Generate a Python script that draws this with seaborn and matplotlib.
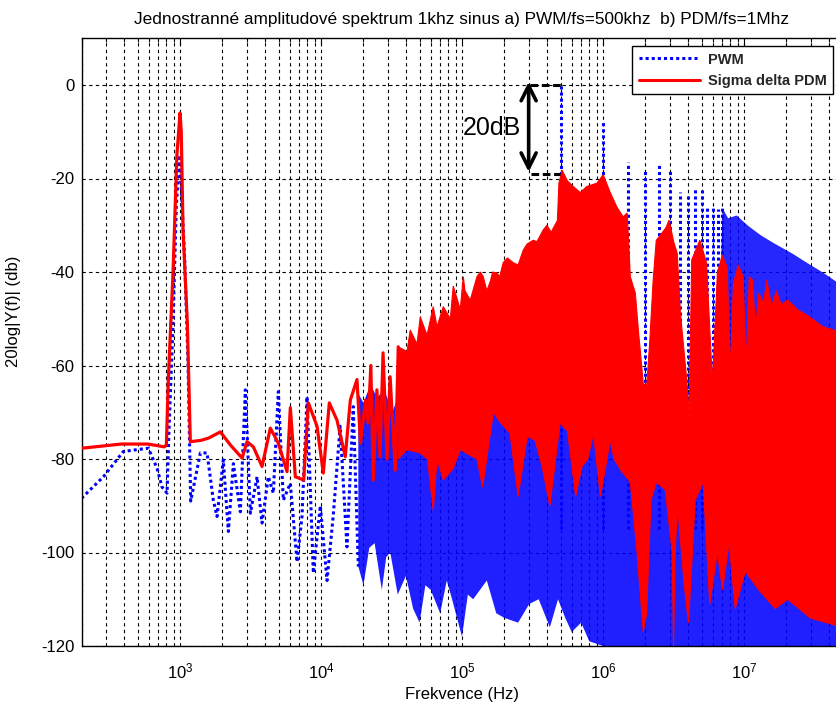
import matplotlib
matplotlib.use("Agg")
import matplotlib.pyplot as plt
from matplotlib.lines import Line2D
from matplotlib.ticker import LogLocator, NullFormatter, FixedLocator
import seaborn as sns
import numpy as np

# ---------------- data ----------------
title = "Jednostranné amplitudové spektrum 1khz sinus a) PWM/fs=500khz  b) PDM/fs=1Mhz"
xlabel = "Frekvence (Hz)"
ylabel = "20log|Y(f)| (db)"
legend_labels = ["PWM", "Sigma delta PDM"]
yticks = [0, -20, -40, -60, -80, -100, -120]

# PWM (blue, dotted) - low frequency resolved part
pwm_f = [200, 286, 396, 495, 596, 687, 745, 809, 830, 892, 941, 990, 1021, 1078,
         1139, 1190, 1394, 1554, 1722, 1830, 2027, 2201, 2389, 2679, 2905, 3154,
         3518, 3816, 4228, 4589, 4978, 5403, 6058, 6757, 7330, 7955, 8817, 9886,
         11030, 12220, 13660, 15270, 16930, 18390]
pwm_db = [-88.4, -83.8, -78.4, -78.0, -77.7, -82.0, -86.0, -87.3, -76.0, -51.0,
          -26.0, -15.0, -22.0, -37.0, -59.5, -89.0, -78.7, -78.7, -88.8, -92.3,
          -80.2, -95.5, -81.0, -91.3, -65.2, -91.6, -83.8, -93.7, -83.8, -87.3,
          -65.6, -88.8, -85.2, -102.0, -92.3, -66.7, -104.4, -90.0, -106.0, -92.0,
          -73.0, -98.8, -68.8, -103.0]

# PWM dense band (upper / lower envelope)
pwm_band_up_f = [18390, 20000, 22500, 25000, 28000, 32000, 36000, 45000, 60000, 80000,
                 100000, 200000, 500000, 800000, 1200000, 1550000, 1700000, 2000000,
                 2500000, 3000000, 4000000, 5000000, 6000000, 8000000, 50000000]
pwm_band_up_db = [-66, -68, -64, -67, -65, -70, -66, -64, -63, -62, -61, -60, -58, -62,
                  -64, -70, -72, -76, -78, -77, -80, -82, -84, -86, -88]
pwm_band_lo_f = [18390, 20000, 22000, 24000, 27000, 29000, 31000, 35000, 40000, 45000,
                 50000, 55000, 60000, 70000, 78000, 85000, 100000, 110000, 120000,
                 150000, 175000, 200000, 250000, 300000, 350000, 420000, 480000,
                 540000, 600000, 700000, 800000, 1000000, 50000000]
pwm_band_lo_db = [-103, -107, -99, -98, -108, -101, -100, -109, -105, -112, -115, -107,
                  -108, -113, -106, -110, -118, -109, -110, -106, -113, -114, -115,
                  -111, -110, -116, -110, -114, -117, -115, -119, -120, -120]

# PWM high-frequency carrier harmonics (dense region envelope)
pwm_hf_f = [6800000, 7000000, 7660000, 8800000, 10600000, 13000000, 16300000,
            22000000, 28000000, 36000000, 45000000, 50000000]
pwm_hf_up_db = [-40, -26.3, -28.4, -27.8, -30, -32, -33.8, -36, -38, -40, -42, -43]
pwm_hf_lo_db = [-70, -70, -70, -70, -70, -70, -70, -70, -70, -70, -70, -70]

# PWM carrier harmonic spikes
spike_f = [5e5, 1e6, 1.5e6, 2e6, 2.5e6, 3e6, 3.5e6, 4e6, 4.5e6, 5e6, 5.5e6, 6e6,
           6.5e6, 7e6]
spike_db = [0, -7.8, -16.4, -18.2, -16.7, -18.5, -22.8, -23.3, -21.8, -22.5, -26.4,
            -25.7, -26.5, -26.3]

# Sigma-delta PDM (red, solid) - resolved part
pdm_f = [200, 383, 593, 774, 800, 826, 892, 950, 1000, 1020, 1050, 1127, 1183, 1416,
         1600, 1932, 2275, 2754, 2986, 3311, 3817, 4369, 4977, 5738, 6058, 6573, 7534,
         8130, 9370, 10380, 11450, 12980, 14860, 16140, 17990, 19060, 20690, 21600,
         22560, 23440, 24900, 26210, 27540, 29420, 30900, 33600, 35300]
pdm_db = [-77.7, -76.8, -76.8, -77.4, -77.0, -63.0, -40.0, -15.0, -6.0, -10.0, -31.0,
          -51.0, -76.3, -76.0, -75.5, -74.2, -77.0, -79.8, -76.3, -77.4, -81.6, -73.4,
          -76.6, -82.7, -69.0, -83.8, -84.5, -68.0, -73.0, -83.0, -68.0, -71.7, -79.5,
          -67.4, -63.0, -76.6, -67.4, -72.3, -60.0, -84.5, -65.2, -79.5, -57.3, -80.0,
          -62.4, -82.4, -56.0]

# Sigma-delta PDM dense band
pdm_up_f = [35300, 40740, 42960, 47940, 50580, 56490, 62520, 66500, 73650, 82590,
            86700, 97240, 102100, 105000, 114500, 127700, 135000, 141500, 150000,
            158800, 165000, 177000, 185000, 196000, 210000, 231000, 250000, 272000,
            290000, 320000, 340000, 377000, 400000, 430000, 444000, 475000, 487000,
            512000, 560000, 615000, 690000, 769000, 905000, 1004000, 1126000, 1250000,
            1390000, 1485000, 1563000, 1696000, 1790000, 1930000, 2041000, 2150000,
            2270000, 2388000, 2512000, 2800000, 2940000, 3190000, 3362000, 3542000,
            3928000, 4077000, 4262000, 4860000, 5425000, 5980000, 6480000, 7010000,
            7600000, 7990000, 8430000, 9130000, 9850000, 10380000, 10920000, 11480000,
            12100000, 12730000, 13770000, 14530000, 15710000, 16980000, 18370000,
            20420000, 23850000, 29210000, 36140000, 50000000]
pdm_up_db = [-56, -57, -52.4, -55.4, -49.6, -53.5, -47.4, -51.7, -47.4, -50, -43, -48,
             -41, -44, -46, -41, -40, -41, -44, -42, -40, -40.2, -41, -38, -37, -38,
             -38.5, -35.3, -34, -33.2, -33.5, -31, -30, -31.5, -30.6, -29, -21, -18.2,
             -20.5, -21.7, -23, -21.7, -21, -19.2, -23, -26, -28.2, -27.4, -41, -44.5,
             -53, -63.8, -64.5, -54.5, -41.7, -33.2, -32.4, -30.5, -28.9, -33.8, -36,
             -48.8, -63, -71, -37.4, -33.2, -38, -63.8, -40.2, -36.4, -39, -61, -42.4,
             -38.5, -41, -59.5, -41, -41.7, -52, -44.5, -46.7, -41.7, -47.4, -44, -47,
             -46, -48, -49.6, -51.7, -53]
pdm_lo_f = [35300, 40740, 50580, 57000, 62520, 66500, 73650, 86700, 97240, 127700,
            140000, 167000, 185000, 219000, 250000, 290000, 330000, 370000, 420000,
            496000, 560000, 640000, 710000, 780000, 856000, 960000, 1126000, 1200000,
            1340000, 1563000, 1740000, 1930000, 2041000, 2190000, 2388000, 2767000,
            3100000, 3165000, 3250000, 3380000, 3760000, 4040000, 4515000, 5140000,
            5720000, 6470000, 7050000, 7840000, 8670000, 10210000, 12730000, 16670000,
            20420000, 29510000, 50000000]
pdm_lo_db = [-80, -78, -78.7, -80, -91, -80, -84.5, -82, -78, -80, -86, -70, -72,
             -74.5, -88, -75.2, -76, -81.6, -90, -72.3, -74, -88, -81.6, -80, -74.5,
             -88, -76, -80, -82.4, -85, -99.5, -117, -113, -88.8, -85, -86.6, -100,
             -120, -100, -90, -106.6, -115, -88.8, -85, -111, -100, -108, -98, -112,
             -104, -108, -112, -110, -114, -116]

# ---------------- style ----------------
sns.set_theme(style="white")
plt.rcParams["font.family"] = ["Liberation Sans", "DejaVu Sans"]
plt.rcParams["mathtext.fontset"] = "custom"
plt.rcParams["mathtext.rm"] = "Liberation Sans"
plt.rcParams["axes.unicode_minus"] = False

BLUE = (0, 0, 1)
RED = (1, 0, 0)

fig = plt.figure(figsize=(8.36, 7.11), dpi=100)
ax = fig.add_axes([81.5 / 836, 65 / 711, 761 / 836, 607.75 / 711])
ax.set_xscale("log")

# ---- PWM (blue) ----
band_x = pwm_band_up_f + pwm_band_lo_f[::-1]
band_y = pwm_band_up_db + pwm_band_lo_db[::-1]
ax.fill(band_x, band_y, color=BLUE, alpha=0.88, lw=0, zorder=2)
ax.fill_between(pwm_hf_f, pwm_hf_lo_db, pwm_hf_up_db, color=BLUE, alpha=0.85,
                lw=0, zorder=2)
ax.vlines(spike_f, -95, spike_db, colors=[BLUE], linestyles=[(0, (1, 1))],
          lw=2.2, zorder=2)
sns.lineplot(x=pwm_f, y=pwm_db, ax=ax, color=BLUE, lw=2.2, linestyle=(0, (1, 1)),
             estimator=None, sort=False, zorder=2)

# ---- PDM (red) ----
pdm_x = pdm_up_f + pdm_lo_f[::-1]
pdm_y = pdm_up_db + pdm_lo_db[::-1]
ax.fill(pdm_x, pdm_y, color=RED, lw=0.8, ec=RED, zorder=3)
sns.lineplot(x=pdm_f, y=pdm_db, ax=ax, color=RED, lw=2.3, estimator=None,
             sort=False, zorder=3)

# ---- axes ----
ax.set_xlim(200, 5e7)
ax.set_ylim(-120, 10)
ax.yaxis.set_major_locator(FixedLocator(yticks))
ax.xaxis.set_major_locator(LogLocator(base=10, numticks=20))
ax.xaxis.set_minor_locator(LogLocator(base=10, subs=np.arange(2, 10), numticks=200))
ax.xaxis.set_minor_formatter(NullFormatter())

ax.grid(True, which="major", axis="both", color="black", linestyle=(0, (3, 3)),
        lw=0.8)
ax.grid(True, which="minor", axis="x", color="black", linestyle=(0, (3, 3)), lw=0.8)
ax.set_axisbelow(True)

for s in ax.spines.values():
    s.set_color("black")
    s.set_linewidth(1.0)
ax.tick_params(axis="both", which="both", direction="in", top=True, right=True,
               colors="black", labelsize=12)
ax.tick_params(axis="both", which="major", length=5, width=0.8)
ax.tick_params(axis="x", which="minor", length=3, width=0.8)
ax.tick_params(axis="y", pad=5)
ax.tick_params(axis="x", pad=11)

ax.set_xlabel(xlabel, fontsize=12, color="black", labelpad=4)
ax.set_ylabel(ylabel, fontsize=12, color="black")
ax.yaxis.set_label_coords((21 - 81.5) / 761, (646 - 311) / 607.75)
ax.set_title(title, fontsize=12.4, color="black", pad=10)

# ---- 20 dB annotation ----
ax.annotate("", xy=(2.97e5, 0.7), xytext=(2.97e5, -18.6),
            arrowprops=dict(arrowstyle="<->, head_length=0.9, head_width=0.45",
                            lw=2.6, color="black", shrinkA=0, shrinkB=0), zorder=6)
ax.plot([3.05e5, 5.1e5], [0, 0], color="black", lw=2.2, linestyle=(0, (2.5, 1.2)),
        zorder=6)
ax.plot([3.1e5, 4.95e5], [-19, -19], color="black", lw=2.2, linestyle=(0, (2.5, 1.2)),
        zorder=6)
ax.text(1.63e5, -9.2, "20dB", fontsize=18, ha="center", va="center", color="black",
        zorder=6)

# ---- legend ----
handles = [Line2D([], [], color=BLUE, lw=2.2, linestyle=(0, (1, 1))),
           Line2D([], [], color=RED, lw=2.2)]
leg = ax.legend(handles, legend_labels, loc="upper right",
                bbox_to_anchor=((833 - 81.5) / 761, (646 - 46) / 607.75),
                borderaxespad=0, frameon=True, fancybox=False, framealpha=1,
                edgecolor="black", prop={"weight": "bold", "size": 10.5},
                handlelength=4.2, handletextpad=0.5, borderpad=0.45, labelspacing=0.5)
leg.get_frame().set_linewidth(1.0)
leg.set_zorder(10)

fig.savefig("out.png", dpi=100)
